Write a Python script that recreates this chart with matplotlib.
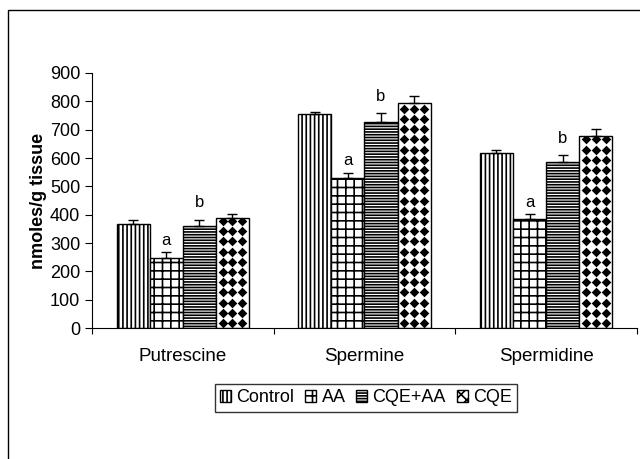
import numpy as np
import matplotlib.pyplot as plt
from matplotlib.patches import Rectangle, Patch

plt.rcParams['font.family'] = ['Liberation Sans', 'DejaVu Sans']
plt.rcParams['hatch.linewidth'] = 1.2

# data
groups = ['Putrescine', 'Spermine', 'Spermidine']
series = ['Control', 'AA', 'CQE+AA', 'CQE']
control = [369, 754, 617]
aa = [249, 529, 384]
cqe_aa = [362, 727, 586]
cqe = [387, 794, 676]
control_err = [11, 8, 13]
aa_err = [20, 20, 17]
cqe_aa_err = [21, 31, 23]
cqe_err = [17, 25, 25]
sig_aa = ['a', 'a', 'a']
sig_cqe_aa = ['b', 'b', 'b']

values = [control, aa, cqe_aa, cqe]
errors = [control_err, aa_err, cqe_aa_err, cqe_err]
hatches = ['||||', '++', '------', '']

fig = plt.figure(figsize=(6.4, 4.59), dpi=100)
ax = fig.add_axes([0.144, 0.285, 0.851, 0.556])

x = np.arange(len(groups))
w = 0.182
offsets = (np.arange(4) - 1.5) * w

bars = []
for i in range(4):
    b = ax.bar(x + offsets[i], values[i], w, color='white', edgecolor='black',
               linewidth=1.0, hatch=hatches[i], label=series[i], zorder=2)
    ax.errorbar(x + offsets[i], values[i], yerr=[[0] * 3, errors[i]], fmt='none',
                ecolor='black', elinewidth=1.0, capsize=3.5, capthick=1.0, zorder=3)
    bars.append(b)

# diamond pattern for the CQE bars
for rect in bars[3]:
    x0, wd, h = rect.get_x(), rect.get_width(), rect.get_height()
    cols = x0 + wd * np.array([0.2, 0.5, 0.8])
    rows = np.arange(18, h, 36)
    xx, yy = np.meshgrid(cols, rows)
    sc = ax.scatter(xx.ravel(), yy.ravel(), marker='D', s=24, color='black',
                    linewidths=0, zorder=2.5)
    sc.set_clip_path(rect)

# significance letters
for i in range(3):
    ax.annotate(sig_aa[i], (x[i] + offsets[1], aa[i] + aa_err[i]), xytext=(0, 3),
                textcoords='offset points', ha='center', va='bottom', fontsize=12)
    ax.annotate(sig_cqe_aa[i], (x[i] + offsets[2], cqe_aa[i] + cqe_aa_err[i]),
                xytext=(0, 7), textcoords='offset points', ha='center',
                va='bottom', fontsize=12)

ax.set_xlim(-0.5, 2.5)
ax.set_ylim(0, 900)
ax.set_yticks(np.arange(0, 901, 100))
ax.set_xticks([-0.5, 0.5, 1.5, 2.5])
ax.set_xticklabels([])
ax.set_xticks(x, minor=True)
ax.set_xticklabels(groups, minor=True, fontsize=13.5)
ax.tick_params(axis='x', which='minor', length=0, pad=14)
ax.tick_params(axis='x', which='major', length=4, direction='out')
ax.tick_params(axis='y', labelsize=13, length=5, direction='out')
for s in ['top', 'right']:
    ax.spines[s].set_visible(False)
ax.set_ylabel('nmoles/g tissue', fontsize=13, fontweight='bold', labelpad=2)

handles = [Patch(facecolor='white', edgecolor='black', hatch=h) for h in hatches[:3]]
handles.append(Patch(facecolor='white', edgecolor='black', hatch='XXX'))
leg = fig.legend(handles, series, loc='center', bbox_to_anchor=(0.572, 0.133),
                 ncol=4, fontsize=13, frameon=True, fancybox=False,
                 edgecolor='black', handlelength=0.6, handleheight=0.6,
                 handletextpad=0.3, columnspacing=0.6, borderpad=0.3)
leg.get_frame().set_linewidth(1.0)

fig.patches.append(Rectangle((0.0125, -0.1), 1.2, 1.078, transform=fig.transFigure,
                             fill=False, edgecolor='black', linewidth=1.0))

fig.savefig('out.png', dpi=100)
